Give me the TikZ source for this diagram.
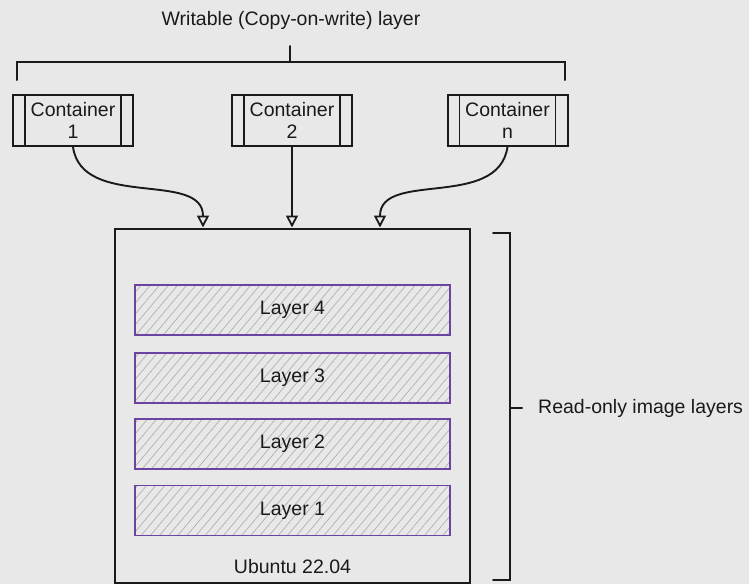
\documentclass[tikz,border=0pt]{standalone}
\usepackage{fontspec}
\setmainfont{Liberation Sans}
\usetikzlibrary{arrows.meta,patterns.meta}
\definecolor{bg}{HTML}{E8E8E8}
\definecolor{ink}{HTML}{1A1A1A}
\definecolor{layerpurple}{HTML}{6A44A0}
\definecolor{hatch}{HTML}{B0B0B0}
\tikzset{
  stroke/.style={draw=ink, line width=2pt},
  container/.style={stroke, minimum width=120pt, minimum height=51pt,
    inner sep=0pt, align=center, text=ink,
    path picture={
      \draw[ink, line width=1.7pt]
        ([xshift=12pt]path picture bounding box.north west) --
        ([xshift=12pt]path picture bounding box.south west)
        ([xshift=-12pt]path picture bounding box.north east) --
        ([xshift=-12pt]path picture bounding box.south east);
    }},
  hostbox/.style={stroke, minimum width=355pt, minimum height=354pt, inner sep=0pt},
  layerbox/.style={draw=layerpurple, line width=1.8pt, minimum width=315pt,
    minimum height=50pt, inner sep=0pt, text=ink,
    pattern={Lines[angle=50, distance=7pt, line width=0.7pt]}, pattern color=hatch},
  conn/.style={draw=ink, line width=1.9pt,
    -{Triangle[open, length=12pt, width=12pt, line width=1.8pt]}},
  label/.style={text=ink, inner sep=0pt}
}
\begin{document}
\begin{tikzpicture}[x=1pt, y=-1pt, font=\fontsize{19.5}{22}\selectfont]
  % canvas
  \fill[bg] (0,0) rectangle (749,584);
  \useasboundingbox (0,0) rectangle (749,584);

  % writable layer: title and bracket
  \node[label] (title) at (291,20) {Writable (Copy-on-write) layer};
  \coordinate (bl) at (17,80);
  \coordinate (br) at (565,80);
  \coordinate (bmid) at (290,62);
  \coordinate (btip) at (290,46);
  \draw[stroke, line cap=round] (bl) -- (bl |- bmid) -- (br |- bmid) -- (br);
  \draw[stroke, line cap=round] (bmid) -- (btip);

  % containers
  \node[container] (c1) at (73,120.5) {Container\\1};
  \node[container] (c2) at (292,120.5) {Container\\2};
  \node[container] (cn) at (507.5,120.5) {Container\\n};

  % image box with read-only layers
  \node[hostbox] (img) at (292.5,405.5) {};
  \node[layerbox] (l4) at (292.5,310) {Layer 4};
  \node[layerbox] (l3) at (292.5,378) {Layer 3};
  \node[layerbox] (l2) at (292.5,444) {Layer 2};
  \node[layerbox] (l1) at (292.5,510.5) {Layer 1};
  \node[label] (os) at (292.5,567) {Ubuntu 22.04};

  % containers share the image
  \coordinate (t1) at ([xshift=-89.5pt]img.north);
  \coordinate (t2) at (img.north -| c2.south);
  \coordinate (tn) at ([xshift=87.5pt]img.north);
  \draw[conn] (c1.south) .. controls (82,210) and (203,170) .. (t1);
  \draw[conn] (c2.south) -- (t2);
  \draw[conn] (cn.south) .. controls (498,210) and (380,170) .. (tn);

  % read-only bracket
  \coordinate (rt) at (493,233);
  \coordinate (rb) at (493,580);
  \coordinate (rm) at (510,408);
  \draw[stroke, line cap=round] (rt) -- (rt -| rm) -- (rb -| rm) -- (rb);
  \draw[stroke, line cap=round] (rm) -- ++(12,0) coordinate (rtick);
  \node[label, anchor=west] (ro) at (538,408) {Read-only image layers};
\end{tikzpicture}
\end{document}
